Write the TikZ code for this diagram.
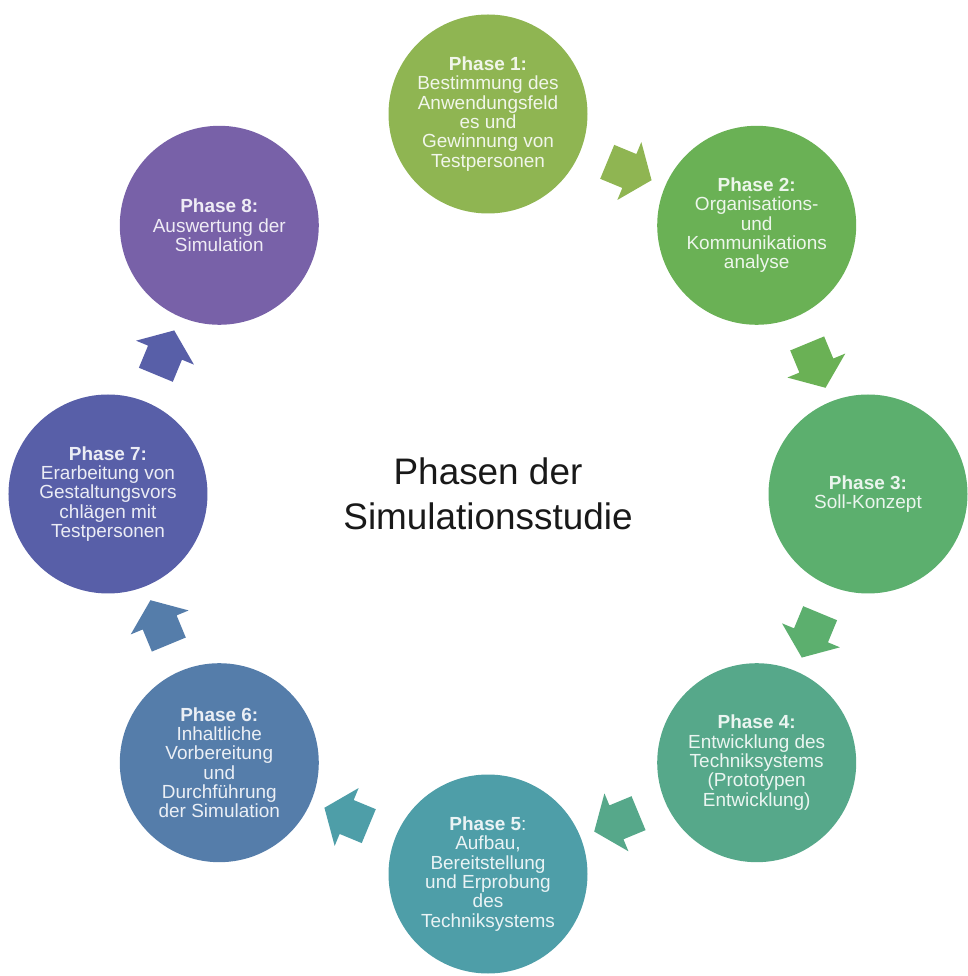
\documentclass[tikz,border=0pt]{standalone}
\usepackage{fontspec}
\setmainfont{Liberation Sans}
\usetikzlibrary{shapes.arrows}

\definecolor{phaseA}{HTML}{8FB552}
\definecolor{phaseB}{HTML}{6AB155}
\definecolor{phaseC}{HTML}{5CAF6E}
\definecolor{phaseD}{HTML}{56A88A}
\definecolor{phaseE}{HTML}{4E9EA8}
\definecolor{phaseF}{HTML}{557DAA}
\definecolor{phaseG}{HTML}{585FA8}
\definecolor{phaseH}{HTML}{7861A8}

\begin{document}
\begin{tikzpicture}[phase/.style={circle, fill=#1, text=white!88!#1, minimum size=3.98cm, inner sep=0pt, align=center, font=\fontsize{10.8}{11}\selectfont},
  flow/.style={single arrow, fill=#1, minimum height=0.96cm, inner xsep=0pt, inner ysep=0.36cm, single arrow head extend=0.26cm, single arrow tip angle=105}]
  \useasboundingbox (-9.76,-9.64) rectangle (9.58,9.88);

  \node[phase=phaseA] (ph1) at (90:7.6) {\textbf{Phase 1:}\\Bestimmung des\\Anwendungsfeld\\es und\\Gewinnung von\\Testpersonen};
  \node[phase=phaseB] (ph2) at (45:7.6) {\textbf{Phase 2:}\\Organisations-\\und\\Kommunikations\\analyse};
  \node[phase=phaseC] (ph3) at (0:7.6) {\textbf{Phase 3:}\\Soll-Konzept};
  \node[phase=phaseD] (ph4) at (-45:7.6) {\textbf{Phase 4:}\\Entwicklung des\\Techniksystems\\(Prototypen\\Entwicklung)};
  \node[phase=phaseE] (ph5) at (-90:7.6) {\textbf{Phase 5}:\\Aufbau,\\Bereitstellung\\und Erprobung\\des\\Techniksystems};
  \node[phase=phaseF] (ph6) at (-135:7.6) {\textbf{Phase 6:}\\Inhaltliche\\Vorbereitung\\und\\Durchführung\\der Simulation};
  \node[phase=phaseG] (ph7) at (180:7.6) {\textbf{Phase 7:}\\Erarbeitung von\\Gestaltungsvors\\chlägen mit\\Testpersonen};
  \node[phase=phaseH] (ph8) at (135:7.6) {\textbf{Phase 8:}\\Auswertung der\\Simulation};

  \node[align=center, text=black!90, font=\fontsize{21}{25.5}\selectfont] (title) at (0,0) {Phasen der\\Simulationsstudie};

  \node[flow=phaseA, rotate=-22.5] (ar12) at (67.5:7.05) {};
  \node[flow=phaseB, rotate=-67.5] (ar23) at (22.5:7.05) {};
  \node[flow=phaseC, rotate=-112.5] (ar34) at (-22.5:7.05) {};
  \node[flow=phaseD, rotate=-157.5] (ar45) at (-67.5:7.05) {};
  \node[flow=phaseE, rotate=157.5] (ar56) at (-112.5:7.05) {};
  \node[flow=phaseF, rotate=112.5] (ar67) at (-157.5:7.05) {};
  \node[flow=phaseG, rotate=67.5] (ar78) at (157.5:7.05) {};
\end{tikzpicture}
\end{document}
